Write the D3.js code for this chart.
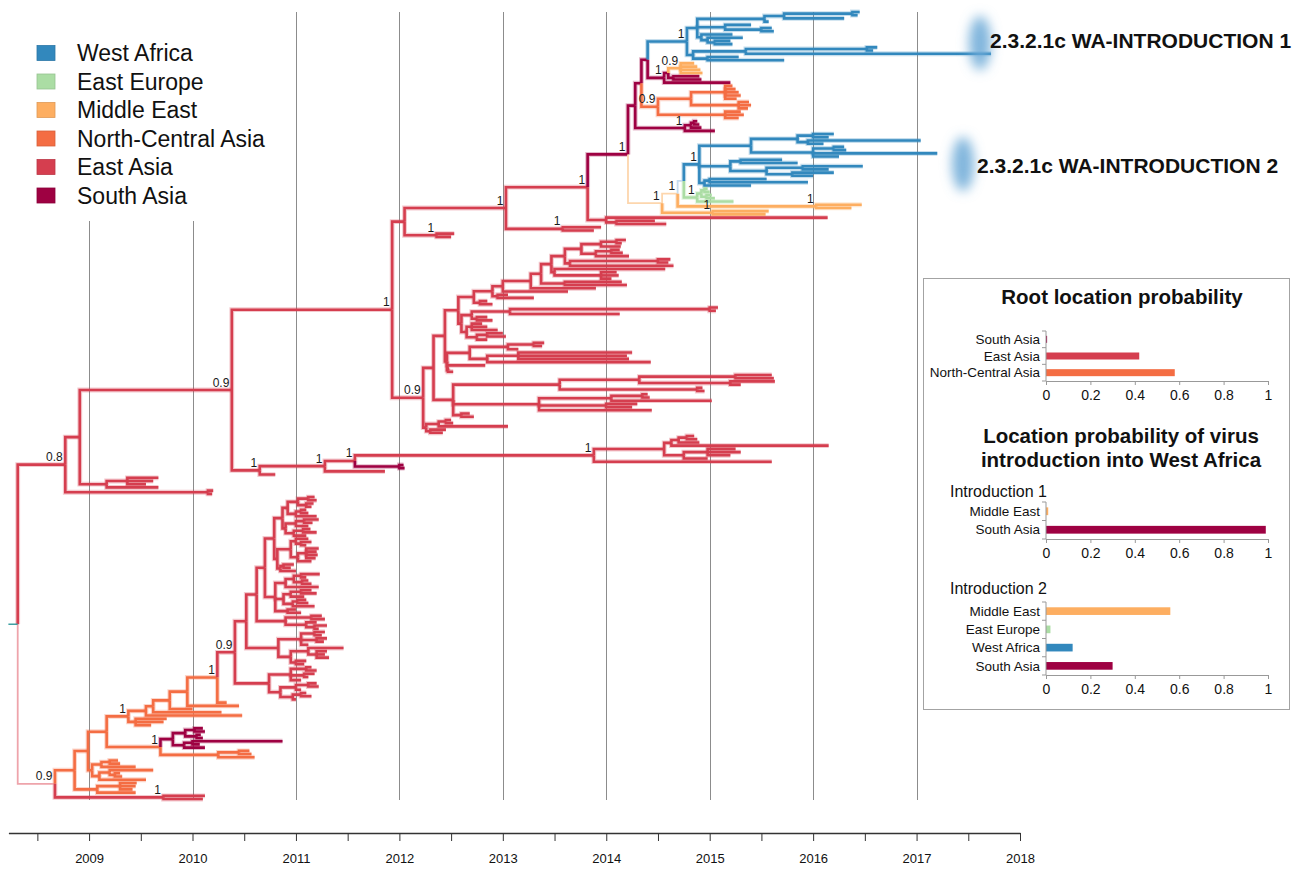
<!DOCTYPE html>
<html>
<head>
<meta charset="utf-8">
<script src="https://cdn.jsdelivr.net/npm/d3@7"></script>
<style>
  body { margin: 0; background: #fff; }
  svg { display: block; font-family: "Liberation Sans", Arial, Helvetica, sans-serif; }
</style>
</head>
<body>
<svg id="chart" width="1302" height="871"></svg>
<script>
// ---------------- data ----------------
const locations = ["West Africa", "East Europe", "Middle East", "North-Central Asia", "East Asia", "South Asia"];
const locationCodes = ["W", "U", "M", "N", "E", "S"];
const locationColors = ["#3288bd", "#abdda4", "#fdae61", "#f46d43", "#d53e4f", "#9e0142"];
// lower-case codes in the tree mark branches with a weak location state
const faintColors = ["#c6dcef", "#d6edd2", "#fdd6ad", "#f9b9a4", "#eea4ab", "#d498ad"];

const axisStart = 2008.22;
const axisEnd = 2018;
const halfYearTicks = [2008.5, 2009, 2009.5, 2010, 2010.5, 2011, 2011.5, 2012, 2012.5, 2013, 2013.5,
  2014, 2014.5, 2015, 2015.5, 2016, 2016.5, 2017, 2017.5, 2018];
const gridYears = [2009, 2010, 2011, 2012, 2013, 2014, 2015, 2016, 2017];

// Time-scaled tree in a Newick-like notation: LOC@date#support
const waIntro1 = "(((((W@2016.45,W@2016.43)W@2016.38,W@2016.3)W@2015.72,W@2015.57)W@2015.53,(W@2015.4,(W@2015.6,W@2015.62)W@2015.5)W@2015.15,(W@2015.22,(W@2015.32,(W@2015.2,W@2015.22)W@2015.05)W@2014.98)W@2014.92)W@2014.88," +
  "(((W@2016.62,W@2016.58)W@2016.52,W@2017.72)W@2015.35,(W@2015.28,W@2015.72)W@2014.98)W@2014.84)W@2014.78#1";
const southAsiaA = "(((M@2014.85,M@2014.88,M@2014.91,M@2014.93)M@2014.72#0.9,(S@2014.9,S@2014.92)S@2014.65)S@2014.6,S@2015.2)S@2014.56#1";
const northCentralA = "(((N@2015.22,N@2015.25,N@2015.28,N@2015.3,N@2015.26)N@2015.15,(N@2015.38,N@2015.4,N@2015.37)N@2015.28)N@2014.82,(N@2015.3,N@2015.33,N@2015.28)N@2015.15)N@2014.5#0.9";
const southAsiaB = "(((S@2014.88,S@2014.9)S@2014.85,S@2014.92)S@2014.82,S@2015.05)S@2014.76#1";
const waIntro2 = "((((W@2016.2,W@2016.15)W@2016.0,(W@2017.04,W@2016.1)W@2015.95)W@2015.85,((W@2016.3,W@2016.32)W@2016.2,W@2017.2,W@2016.25)W@2016.0)W@2015.4," +
  "((W@2015.7,W@2015.85)W@2015.3,((W@2016.48,W@2016.15)W@2015.9,(W@2016.2,W@2016.0)W@2015.8)W@2015.55)W@2015.2," +
  "((W@2015.55,W@2015.95)W@2015.0,W@2015.4)W@2014.95)W@2014.9#1";
const eastEurope = "(((U@2014.98,U@2015.0)U@2014.95,(U@2015.02,U@2015.05)U@2014.97)U@2014.92,U@2015.23)U@2014.88#1";
const middleEast = `(((${waIntro2},${eastEurope})w@2014.75,(M@2016.47,M@2016.37)M@2016.03#1)m@2014.69#1,(M@2015.57,M@2015.54)M@2015.03#1)m@2014.54#1`;
const southAsiaRoot = `((((${waIntro1},${southAsiaA})S@2014.4,${northCentralA})S@2014.34,${southAsiaB})S@2014.28,${middleEast})S@2014.21#1`;
const eastAsiaTop = `(((${southAsiaRoot},(E@2016.14,(E@2014.47,E@2014.58)E@2014.1)E@2014.0)E@2013.82#1,(E@2013.95,E@2013.88)E@2013.58#1)E@2013.03#1,(E@2012.53,E@2012.5)E@2012.36#1)E@2012.05`;

const eastAsiaChain = "((((((((((E@2014.19,E@2014.15)E@2014.1,E@2014.14)E@2013.95,((E@2014.13,E@2014.16)E@2014.05,E@2014.22)E@2013.9)E@2013.76," +
  "((E@2014.62,E@2014.6)E@2014.5,E@2014.65)E@2013.65)E@2013.6,(E@2014.57,(E@2014.1,E@2014.12,E@2014.05)E@2013.95)E@2013.5)E@2013.47," +
  "(E@2014.15,E@2014.2)E@2013.6)E@2013.37,E@2013.9)E@2013.27,E@2013.63)E@2013.0,(E@2013.05,E@2013.3)E@2012.95)E@2012.9,(E@2012.85,E@2012.9)E@2012.78)E@2012.72";
const eastAsiaMid = "((((E@2015.08,E@2015.06)E@2015.0,E@2014.13)E@2013.07,(E@2012.85,E@2012.9)E@2012.75)E@2012.7," +
  "((E@2012.8,E@2012.85,E@2012.95)E@2012.7,((E@2013.0,E@2013.03)E@2012.85,E@2012.85)E@2012.75)E@2012.65)E@2012.6";
const eastAsiaLow = "((((E@2013.4,E@2013.38)E@2013.3,E@2013.15)E@2013.05,((E@2014.25,E@2014.2,E@2014.22)E@2013.15,E@2014.43)E@2012.85)E@2012.68,E@2012.83,(E@2012.48,E@2012.52)E@2012.47)E@2012.46";
const eastAsiaLate = "((((E@2015.6,E@2015.62)E@2015.25,(E@2015.63,E@2015.3)E@2015.2)E@2014.32,(E@2014.93,E@2014.95)E@2014.88)E@2013.55," +
  "(((E@2014.4,E@2014.42)E@2014.35,E@2015.02)E@2014.05,(E@2014.3,E@2014.25)E@2014.0,E@2014.44)E@2013.35,(E@2012.68,E@2012.72)E@2012.6)E@2012.52";
const eastAsiaBase = "(((E@2012.5,E@2012.52)E@2012.45,E@2013.05)E@2012.38,(E@2012.45,E@2012.42)E@2012.3)E@2012.26";
const eastAsiaBig = `((((${eastAsiaChain},${eastAsiaMid})E@2012.57,${eastAsiaLow})E@2012.44,${eastAsiaLate})E@2012.33,${eastAsiaBase})E@2012.23#0.9`;

const eastAsiaLong = "((((((((E@2014.85,E@2014.88)E@2014.78,E@2014.9)E@2014.7,E@2016.15)E@2014.63,((E@2015.25,E@2015.3,E@2015.2)E@2014.98,E@2014.98)E@2014.75)E@2014.56,E@2015.6)E@2013.88#1," +
  "(S@2012.04,S@2012.05)S@2012.0)E@2011.57#1,E@2011.86)E@2011.28#1,E@2010.8)E@2010.65#1";
const cladeUpper = `((((${eastAsiaTop},${eastAsiaBig})E@2011.93#1,${eastAsiaLong})E@2010.38#0.9,((E@2009.67,E@2009.62,E@2009.55)E@2009.37,E@2009.67)E@2009.17)E@2008.91,(E@2010.2,E@2010.19)E@2010.15)E@2008.77#0.8`;

const eastAsia2011a = "((((((E@2011.18,E@2011.2)E@2011.12,(E@2011.17,E@2011.15)E@2011.1)E@2011.02,((E@2011.1,E@2011.12)E@2011.05,E@2011.2)E@2011.0)E@2010.92," +
  "(((E@2011.22,E@2011.16)E@2011.08,E@2011.12)E@2011.0,((E@2011.14,E@2011.2)E@2011.07,E@2011.1)E@2010.98)E@2010.9)E@2010.87," +
  "(((E@2011.12,(E@2011.15,E@2011.1)E@2011.05)E@2011.0,((E@2011.22,E@2011.2,E@2011.21,E@2011.19)E@2011.1,E@2011.15)E@2011.02)E@2010.95," +
  "((E@2010.98,E@2010.95)E@2010.88,E@2011.0)E@2010.85)E@2010.82)E@2010.79," +
  "((((E@2011.23,E@2011.1)E@2011.05,(E@2011.12,E@2011.15)E@2011.06)E@2010.98,E@2011.22)E@2010.9," +
  "(((E@2011.15,E@2011.2)E@2011.05,E@2011.08)E@2010.95,((E@2011.1,E@2011.12)E@2011.02,E@2011.18)E@2010.97)E@2010.88," +
  "(E@2011.0,E@2011.05)E@2010.92)E@2010.8)E@2010.7";
const eastAsia2011b = "((E@2011.25,E@2011.28)E@2011.15,(E@2011.2,(E@2011.3,E@2011.22)E@2011.18)E@2011.1)E@2010.9";
const eastAsia2011c = "(((E@2011.28,E@2011.25)E@2011.18,(E@2011.3,E@2011.27)E@2011.2,E@2011.12)E@2011.05,((E@2011.46,(E@2011.3,E@2011.28,E@2011.32)E@2011.2)E@2011.12,(E@2011.1,E@2011.08)E@2011.0)E@2010.95)E@2010.83";
const eastAsia2011d = "(((E@2011.15,E@2011.2)E@2011.1,(E@2011.18,E@2011.12)E@2011.08,E@2011.05)E@2010.95,(((E@2011.2,E@2011.22)E@2011.12,E@2011.05)E@2011.0,((E@2011.1,E@2011.15)E@2011.05,E@2011.0)E@2010.97)E@2010.85)E@2010.74";
const eastAsia2011 = `(((${eastAsia2011a},${eastAsia2011b})E@2010.62,${eastAsia2011c})E@2010.52,${eastAsia2011d})E@2010.41#0.9`;
const northCentralChain = `((((((${eastAsia2011},N@2010.33)N@2010.24#1,N@2010.45)N@2009.95,N@2010.0)N@2009.78,N@2010.28)N@2009.62,N@2010.48)N@2009.55,(N@2009.75,N@2009.72,N@2009.6)N@2009.45)N@2009.38#1`;
const southAsiaEarly = "((((S@2010.1,S@2010.12)S@2010.02,(S@2010.08,S@2010.1)S@2010.04)S@2009.93,((S@2010.87,S@2010.07)S@2010.0,S@2010.12)S@2009.92)S@2009.81,((N@2010.55,N@2010.57)N@2010.45,N@2010.6)N@2010.25)N@2009.69#1";
const northCentralEarly = "(((N@2009.28,N@2009.3)N@2009.2,N@2009.45)N@2009.12,((N@2009.62,(N@2009.3,N@2009.32)N@2009.25)N@2009.2,N@2009.55)N@2009.1)N@2009.03";
const cladeLower = `((((${northCentralChain},${southAsiaEarly})N@2009.17,${northCentralEarly})N@2008.99,((N@2009.46,N@2009.45,N@2009.42)N@2009.3,N@2009.45)N@2009.08)N@2008.86,(E@2010.12,E@2010.1)E@2009.72#1)e@2008.67#0.9`;

const treeNewick = `(${cladeUpper},${cladeLower})N@2008.31`;

const cladeLabels = ["2.3.2.1c WA-INTRODUCTION 1", "2.3.2.1c WA-INTRODUCTION 2"];

// location probability panels
const rootProbLabels = ["South Asia", "East Asia", "North-Central Asia"];
const rootProbValues = [0.005, 0.42, 0.58];
const intro1Labels = ["Middle East", "South Asia"];
const intro1Values = [0.01, 0.99];
const intro2Labels = ["Middle East", "East Europe", "West Africa", "South Asia"];
const intro2Values = [0.56, 0.02, 0.12, 0.30];
const probTicks = [0, 0.2, 0.4, 0.6, 0.8, 1];

// ---------------- drawing ----------------
const svg = d3.select("#chart");
const colorOf = code => {
  const i = locationCodes.indexOf(code.toUpperCase());
  return code === code.toUpperCase() ? locationColors[i] : faintColors[i];
};

const x = d3.scaleLinear().domain([axisStart, axisEnd]).range([8.4, 1020]);

// defs: blur for clade highlights
const defs = svg.append("defs");
defs.append("filter").attr("id", "soft").attr("x", "-200%").attr("y", "-200%").attr("width", "500%").attr("height", "500%")
  .append("feGaussianBlur").attr("stdDeviation", 6);

// year grid
svg.append("g").selectAll("line").data(gridYears).join("line")
  .attr("x1", d => Math.round(x(d)) + 0.5).attr("x2", d => Math.round(x(d)) + 0.5)
  .attr("y1", 12).attr("y2", 800)
  .attr("stroke", "#8c8c8c").attr("stroke-width", 1);

// legend (on a white ground that hides the grid behind it)
const legend = svg.append("g");
legend.append("rect").attr("x", 0).attr("y", 0).attr("width", 285).attr("height", 221).attr("fill", "#fff");
const legendRows = legend.selectAll("g").data(locations).join("g")
  .attr("transform", (d, i) => `translate(0,${53 + i * 28.5})`);
legendRows.append("rect").attr("x", 37).attr("y", -7.5).attr("width", 18).attr("height", 15)
  .attr("fill", (d, i) => locationColors[i])
  .attr("stroke", (d, i) => d3.color(locationColors[i]).darker(0.35)).attr("stroke-width", 0.8);
legendRows.append("text").attr("x", 77).attr("y", 0).attr("dy", "0.35em")
  .attr("font-size", 23).attr("fill", "#111").text(d => d);

// tree
function parseTree(str) {
  const s = str.replace(/\s+/g, "");
  let i = 0;
  function node() {
    const n = {};
    if (s[i] === "(") {
      i++;
      n.children = [node()];
      while (s[i] === ",") { i++; n.children.push(node()); }
      i++;
    }
    const m = /^([A-Za-z])@(\d+(?:\.\d+)?)(?:#(\d+(?:\.\d+)?))?/.exec(s.slice(i));
    if (!m) throw new Error("tree syntax near: " + s.slice(Math.max(0, i - 40), i + 20));
    n.loc = m[1];
    n.date = +m[2];
    n.support = m[3] || null;
    i += m[0].length;
    return n;
  }
  return node();
}

const root = d3.hierarchy(parseTree(treeNewick));
const leaves = root.leaves();
const yTip = d3.scaleLinear().domain([0, leaves.length - 1]).range([12, 799]);
leaves.forEach((d, i) => { d.py = yTip(i); });
root.eachAfter(d => {
  if (d.children) d.py = (d.children[0].py + d.children[d.children.length - 1].py) / 2;
});
root.each(d => { d.px = x(d.data.date); });

const branches = root.descendants().filter(d => d.parent);
const branchPath = d => `M${d.parent.px},${d.parent.py}V${d.py}H${d.px}`;
const isFaint = d => d.data.loc !== d.data.loc.toUpperCase();

const treeG = svg.append("g").attr("fill", "none").attr("stroke-linejoin", "miter").attr("stroke-linecap", "butt");
treeG.selectAll("path.halo").data(branches.filter(d => !isFaint(d))).join("path")
  .attr("class", "halo").attr("d", branchPath)
  .attr("stroke", d => colorOf(d.data.loc)).attr("stroke-opacity", 0.28).attr("stroke-width", 4.8);
treeG.selectAll("path.core").data(branches).join("path")
  .attr("class", "core").attr("d", branchPath)
  .attr("stroke", d => colorOf(d.data.loc))
  .attr("stroke-width", d => isFaint(d) ? 1.8 : 2.6);

// root stub
svg.append("line")
  .attr("x1", x(axisStart)).attr("x2", root.px).attr("y1", root.py).attr("y2", root.py)
  .attr("stroke", "#2f9a9c").attr("stroke-width", 1.4);

// posterior support labels
svg.append("g").selectAll("text").data(root.descendants().filter(d => d.data.support)).join("text")
  .attr("x", d => d.px - 2.5).attr("y", d => d.py - 3.5)
  .attr("text-anchor", "end").attr("font-size", 12).attr("fill", "#1a1a1a")
  .text(d => d.data.support);

// time axis
const axisG = svg.append("g").attr("transform", "translate(0,833)")
  .call(d3.axisBottom(x).tickValues(halfYearTicks).tickSize(8).tickSizeOuter(0).tickPadding(13)
    .tickFormat(d => Number.isInteger(d) ? d : ""));
axisG.select(".domain").attr("stroke", "#333").attr("stroke-width", 1.6);
axisG.selectAll(".tick line").attr("stroke", "#333");
axisG.selectAll(".tick text").attr("font-size", 13).attr("fill", "#111")
  .attr("font-family", "\"Liberation Sans\", Arial, sans-serif");

// highlighted introductions
const highlights = [{ cx: 980, cy: 43 }, { cx: 963, cy: 164 }];
svg.append("g").selectAll("ellipse").data(highlights).join("ellipse")
  .attr("cx", d => d.cx).attr("cy", d => d.cy).attr("rx", 11).attr("ry", 27)
  .attr("fill", "#6aa8d6").attr("fill-opacity", 0.85).attr("filter", "url(#soft)");
svg.append("g").selectAll("text").data(cladeLabels).join("text")
  .attr("x", (d, i) => [990, 977][i]).attr("y", (d, i) => [41, 166][i]).attr("dy", "0.35em")
  .attr("font-size", 21).attr("font-weight", "bold").attr("fill", "#111")
  .text(d => d);

// probability panel
const panel = svg.append("g");
panel.append("rect").attr("x", 923.5).attr("y", 278.5).attr("width", 366).attr("height", 431)
  .attr("fill", "#fff").attr("stroke", "#a3a3a3").attr("stroke-width", 1);
panel.append("text").attr("x", 1122).attr("y", 297).attr("dy", "0.35em").attr("text-anchor", "middle")
  .attr("font-size", 20.5).attr("font-weight", "bold").attr("fill", "#111").text("Root location probability");
panel.append("text").attr("x", 1121).attr("y", 436).attr("dy", "0.35em").attr("text-anchor", "middle")
  .attr("font-size", 20.5).attr("font-weight", "bold").attr("fill", "#111").text("Location probability of virus");
panel.append("text").attr("x", 1121).attr("y", 460).attr("dy", "0.35em").attr("text-anchor", "middle")
  .attr("font-size", 20.5).attr("font-weight", "bold").attr("fill", "#111").text("introduction into West Africa");
panel.append("text").attr("x", 950).attr("y", 491).attr("dy", "0.35em")
  .attr("font-size", 16).attr("fill", "#111").text("Introduction 1");
panel.append("text").attr("x", 950).attr("y", 588).attr("dy", "0.35em")
  .attr("font-size", 16).attr("fill", "#111").text("Introduction 2");

function barChart(labels, values, top, bottom) {
  const g = panel.append("g");
  const xs = d3.scaleLinear().domain([0, 1]).range([1046, 1268]);
  const ys = d3.scaleBand().domain(labels).range([top, bottom]).paddingInner(0.58).paddingOuter(0.29);
  g.selectAll("rect").data(labels).join("rect")
    .attr("x", xs(0)).attr("y", d => ys(d))
    .attr("width", (d, i) => Math.max(0.8, xs(values[i]) - xs(0))).attr("height", ys.bandwidth())
    .attr("fill", d => locationColors[locations.indexOf(d)]);
  // category axis with ticks between bands
  g.append("line").attr("x1", xs(0)).attr("x2", xs(0)).attr("y1", top).attr("y2", bottom).attr("stroke", "#999");
  const step = (bottom - top) / labels.length;
  g.selectAll("line.sep").data(d3.range(labels.length + 1)).join("line").attr("class", "sep")
    .attr("x1", xs(0) - 4).attr("x2", xs(0)).attr("y1", i => top + i * step).attr("y2", i => top + i * step)
    .attr("stroke", "#999");
  g.selectAll("text.cat").data(labels).join("text").attr("class", "cat")
    .attr("x", xs(0) - 6).attr("y", d => ys(d) + ys.bandwidth() / 2).attr("dy", "0.35em")
    .attr("text-anchor", "end").attr("font-size", 13.5).attr("fill", "#111").text(d => d);
  const ax = g.append("g").attr("transform", `translate(0,${bottom})`)
    .call(d3.axisBottom(xs).tickValues(probTicks).tickSize(4).tickSizeOuter(0).tickPadding(5).tickFormat(d => String(d)));
  ax.select(".domain").attr("stroke", "#999");
  ax.selectAll(".tick line").attr("stroke", "#999");
  ax.selectAll(".tick text").attr("font-size", 14).attr("fill", "#111")
    .attr("font-family", "\"Liberation Sans\", Arial, sans-serif");
}
barChart(rootProbLabels, rootProbValues, 331, 381);
barChart(intro1Labels, intro1Values, 502, 539);
barChart(intro2Labels, intro2Values, 602, 675);
</script>
</body>
</html>
